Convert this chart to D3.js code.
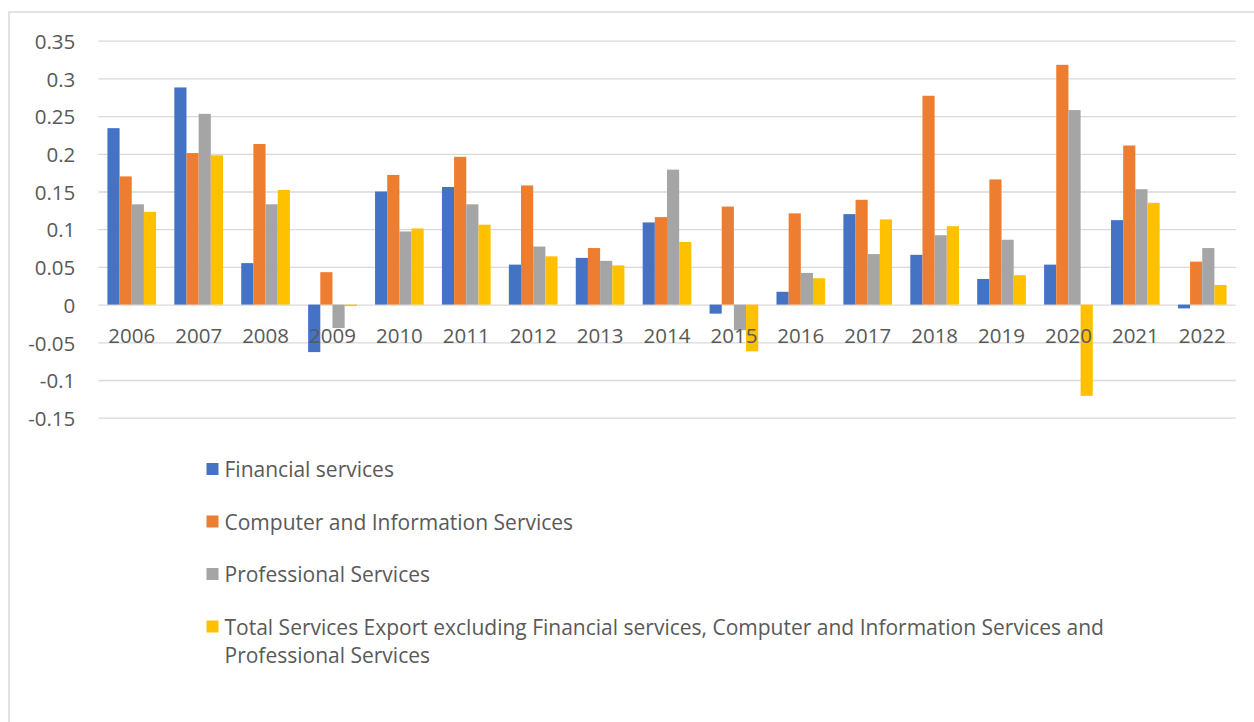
<!DOCTYPE html>
<html>
<head>
<meta charset="utf-8">
<script src="https://cdn.jsdelivr.net/npm/d3@7"></script>
<style>
  html, body { margin: 0; padding: 0; background: #fff; }
  svg { display: block; font-family: "Open Sans", "DejaVu Sans", sans-serif; }
</style>
</head>
<body>
<svg id="chart" width="1254" height="722"></svg>
<script>
// Year-on-year growth of service exports, by category
const years = ["2006","2007","2008","2009","2010","2011","2012","2013","2014","2015","2016","2017","2018","2019","2020","2021","2022"];
const seriesNames = [
  "Financial services",
  "Computer and Information Services",
  "Professional Services",
  "Total Services Export excluding Financial services, Computer and Information Services and Professional Services"
];
const financial    = [0.234, 0.288, 0.055, -0.063, 0.150, 0.156, 0.053, 0.062, 0.109, -0.012, 0.017, 0.120, 0.066, 0.034, 0.053, 0.112, -0.005];
const computerInfo = [0.170, 0.201, 0.213, 0.043, 0.172, 0.196, 0.158, 0.075, 0.116, 0.130, 0.121, 0.139, 0.277, 0.166, 0.318, 0.211, 0.057];
const professional = [0.133, 0.253, 0.133, -0.031, 0.097, 0.133, 0.077, 0.058, 0.179, -0.034, 0.042, 0.067, 0.092, 0.086, 0.258, 0.153, 0.075];
const otherTotal   = [0.123, 0.198, 0.152, -0.002, 0.101, 0.106, 0.064, 0.052, 0.083, -0.062, 0.035, 0.113, 0.104, 0.039, -0.121, 0.135, 0.026];
const yTicks = [0.35, 0.3, 0.25, 0.2, 0.15, 0.1, 0.05, 0, -0.05, -0.1, -0.15];
const colors = ["#4472C4", "#ED7D31", "#A5A5A5", "#FFC000"];

const seriesValues = [financial, computerInfo, professional, otherTotal];

const svg = d3.select("#chart");
const textColor = "#595959";
const gridColor = "#d9d9d9";

// outer chart frame
svg.append("rect")
  .attr("x", 9).attr("y", 12)
  .attr("width", 1270).attr("height", 730)
  .attr("fill", "#fff")
  .attr("stroke", gridColor).attr("stroke-width", 1.5);

const plot = { left: 98.3, right: 1235.7, top: 40.7, bottom: 417.7 };

const y = d3.scaleLinear().domain([-0.15, 0.35]).range([plot.bottom, plot.top]);
const x0 = d3.scaleBand().domain(years).range([plot.left, plot.right]).paddingInner(0).paddingOuter(0);
const x1 = d3.scaleBand().domain(d3.range(seriesNames.length))
  .range([0, x0.bandwidth()]).paddingInner(0).paddingOuter(0.75);

// horizontal gridlines with value labels (plain hyphen for negatives)
const yAxis = d3.axisLeft(y)
  .tickValues(yTicks)
  .tickSize(-(plot.right - plot.left))
  .tickPadding(23)
  .tickFormat(d => String(+d.toFixed(2)));

const gy = svg.append("g")
  .attr("transform", `translate(${plot.left},0)`)
  .call(yAxis);
gy.select(".domain").remove();
gy.selectAll(".tick line").attr("stroke", gridColor).attr("stroke-width", 1.3);
gy.selectAll(".tick text")
  .attr("fill", textColor)
  .attr("font-size", 20.5)
  .attr("font-family", "'Open Sans', sans-serif")
  .attr("dy", "0.38em");

// bars
const groups = svg.append("g").selectAll("g")
  .data(years)
  .join("g")
  .attr("transform", d => `translate(${x0(d)},0)`);

groups.selectAll("rect")
  .data((yr, i) => seriesValues.map((vals, s) => ({ s, v: vals[i] })))
  .join("rect")
  .attr("x", d => x1(d.s))
  .attr("width", x1.bandwidth())
  .attr("y", d => y(Math.max(0, d.v)))
  .attr("height", d => Math.abs(y(d.v) - y(0)))
  .attr("fill", d => colors[d.s]);

// category labels just below the zero line
const xAxis = d3.axisBottom(x0).tickSize(0).tickPadding(0);
const gx = svg.append("g")
  .attr("transform", `translate(0,${y(0)})`)
  .call(xAxis);
gx.select(".domain").remove();
gx.selectAll(".tick text")
  .attr("fill", textColor)
  .attr("font-size", 20.5)
  .attr("font-family", "'Open Sans', sans-serif")
  .attr("y", 38)
  .attr("dy", 0);

// legend
const legend = svg.append("g").attr("transform", "translate(206.5,0)");
const rowGap = 52.5, lineGap = 28, maxWidth = 900;
let baseline = 477;
seriesNames.forEach((name, i) => {
  const item = legend.append("g");
  item.append("rect")
    .attr("x", 0).attr("y", baseline - 14)
    .attr("width", 12).attr("height", 12)
    .attr("fill", colors[i]);
  const text = item.append("text")
    .attr("x", 18).attr("y", baseline)
    .attr("fill", textColor)
    .attr("font-size", 21)
    .attr("font-family", "'Open Sans', sans-serif");
  // word wrap
  const words = name.split(" ");
  let line = [];
  let tspan = text.append("tspan").attr("x", 18).attr("y", baseline);
  let lines = 1;
  words.forEach(w => {
    line.push(w);
    tspan.text(line.join(" "));
    if (tspan.node().getComputedTextLength() > maxWidth && line.length > 1) {
      line.pop();
      tspan.text(line.join(" "));
      line = [w];
      tspan = text.append("tspan").attr("x", 18).attr("y", baseline + lines * lineGap).text(w);
      lines++;
    }
  });
  baseline += rowGap;
});
</script>
</body>
</html>
